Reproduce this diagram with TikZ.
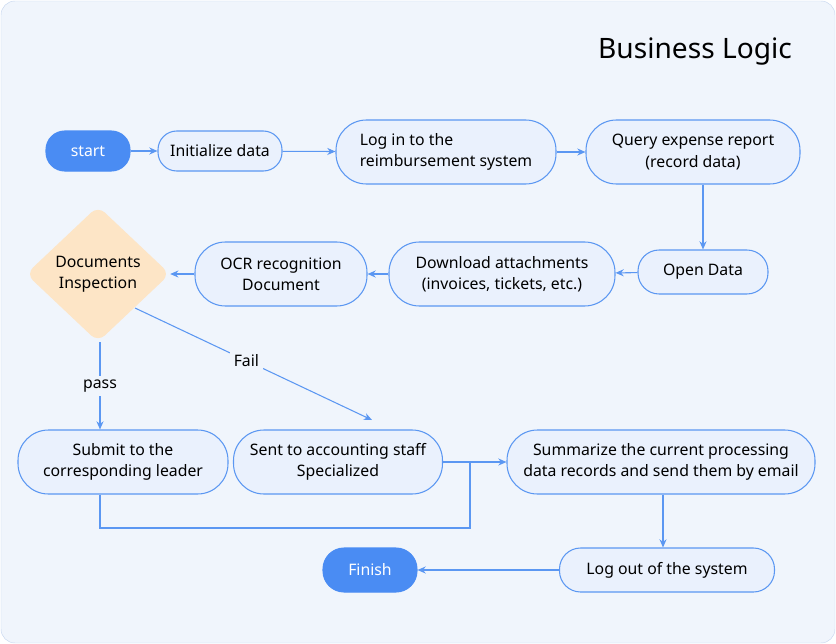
\documentclass[tikz,border=0pt]{standalone}
\usepackage{fontspec}
\setmainfont{Noto Sans}
\usetikzlibrary{shapes.geometric,arrows.meta}
\definecolor{lineblue}{HTML}{5B97F2}
\definecolor{boxfill}{HTML}{EAF1FD}
\definecolor{bgfill}{HTML}{F0F5FC}
\definecolor{bgline}{HTML}{C8D8F0}
\definecolor{startblue}{HTML}{4A8CF3}
\definecolor{diafill}{HTML}{FDE5C6}
\tikzset{
  pill/.style={draw=lineblue, fill=boxfill, rounded corners=16pt, line width=0.9pt,
    align=center, inner sep=0pt, font=\fontsize{13.5}{18}\selectfont},
  tall/.style={pill, rounded corners=26pt, minimum height=64*0.03cm},
  term/.style={pill, fill=startblue, text=white, draw=startblue},
  link/.style={draw=lineblue, line width=0.9pt},
  arr/.style={link, -{Stealth[length=7pt,width=6pt]}},
}
\begin{document}
\begin{tikzpicture}[x=0.03cm, y=-0.03cm]
    \useasboundingbox (0,0) rectangle (836,644);
    \draw[bgline, fill=bgfill, rounded corners=12pt] (1,1) rectangle (835,643);
    \node[font=\fontsize{24}{28}\selectfont] (title) at (695,52) {Business Logic};

    \node[term, minimum width=84*0.03cm, minimum height=40*0.03cm] (start) at (88,151) {start};
    \node[pill, minimum width=124*0.03cm, minimum height=40*0.03cm] (init) at (220,151) {Initialize data};
    \node[tall, minimum width=220*0.03cm, align=left] (login) at (446,152) {Log in to the\\reimbursement system};
    \node[tall, minimum width=214*0.03cm] (query) at (693,152) {Query expense report\\(record data)};
    \node[pill, rounded corners=18pt, minimum width=130*0.03cm, minimum height=44*0.03cm] (open) at (703,272) {Open Data};
    \node[tall, minimum width=226*0.03cm] (down) at (502,274) {Download attachments\\(invoices, tickets, etc.)};
    \node[tall, minimum width=172*0.03cm] (ocr) at (281,274) {OCR recognition\\Document};
    \node[diamond, fill=diafill, rounded corners=8pt, minimum width=144*0.03cm, minimum height=136*0.03cm,
      inner sep=0pt, align=center, font=\fontsize{13.5}{18}\selectfont] (check) at (98,274) {Documents\\Inspection};
    \node[tall, minimum width=210*0.03cm] (submit) at (123,462) {Submit to the\\corresponding leader};
    \node[tall, minimum width=209*0.03cm] (sent) at (338,462) {Sent to accounting staff\\Specialized};
    \node[tall, minimum width=308*0.03cm] (summ) at (661,462) {Summarize the current processing\\data records and send them by email};
    \node[pill, rounded corners=18pt, minimum width=215*0.03cm, minimum height=44*0.03cm] (logout) at (667,570) {Log out of the system};
    \node[term, rounded corners=18pt, minimum width=94*0.03cm, minimum height=44*0.03cm] (finish) at (370,570) {Finish};

    % top row
    \draw[arr] (start) -- (init);
    \draw[arr] (init) -- (login);
    \draw[arr] (login) -- (query);
    \draw[arr] (query.south -| open) -- (open);
    \draw[arr] (open) -- (down);
    \draw[arr] (down) -- (ocr);
    \draw[arr] (ocr) -- (check.east);
    % decision
    \coordinate (passtop) at (100,342);
    \coordinate (failtop) at (135,308);
    \coordinate (failend) at (372,420);
    \draw[arr] (passtop) -- node[fill=bgfill, font=\fontsize{13.5}{18}\selectfont] {pass} (passtop |- submit.north);
    \draw[arr] (failtop) -- node[fill=bgfill, font=\fontsize{13.5}{18}\selectfont, pos=0.47] {Fail} (failend);
    % bottom
    \coordinate (join) at (470,528);
    \draw[link] (passtop |- submit.south) -- (passtop |- join) -- (join) -- (join |- sent.east);
    \draw[arr] (sent) -- (summ);
    \draw[arr] (summ.south -| 663,0) -- (logout.north -| 663,0);
    \draw[arr] (logout) -- (finish);
\end{tikzpicture}
\end{document}
